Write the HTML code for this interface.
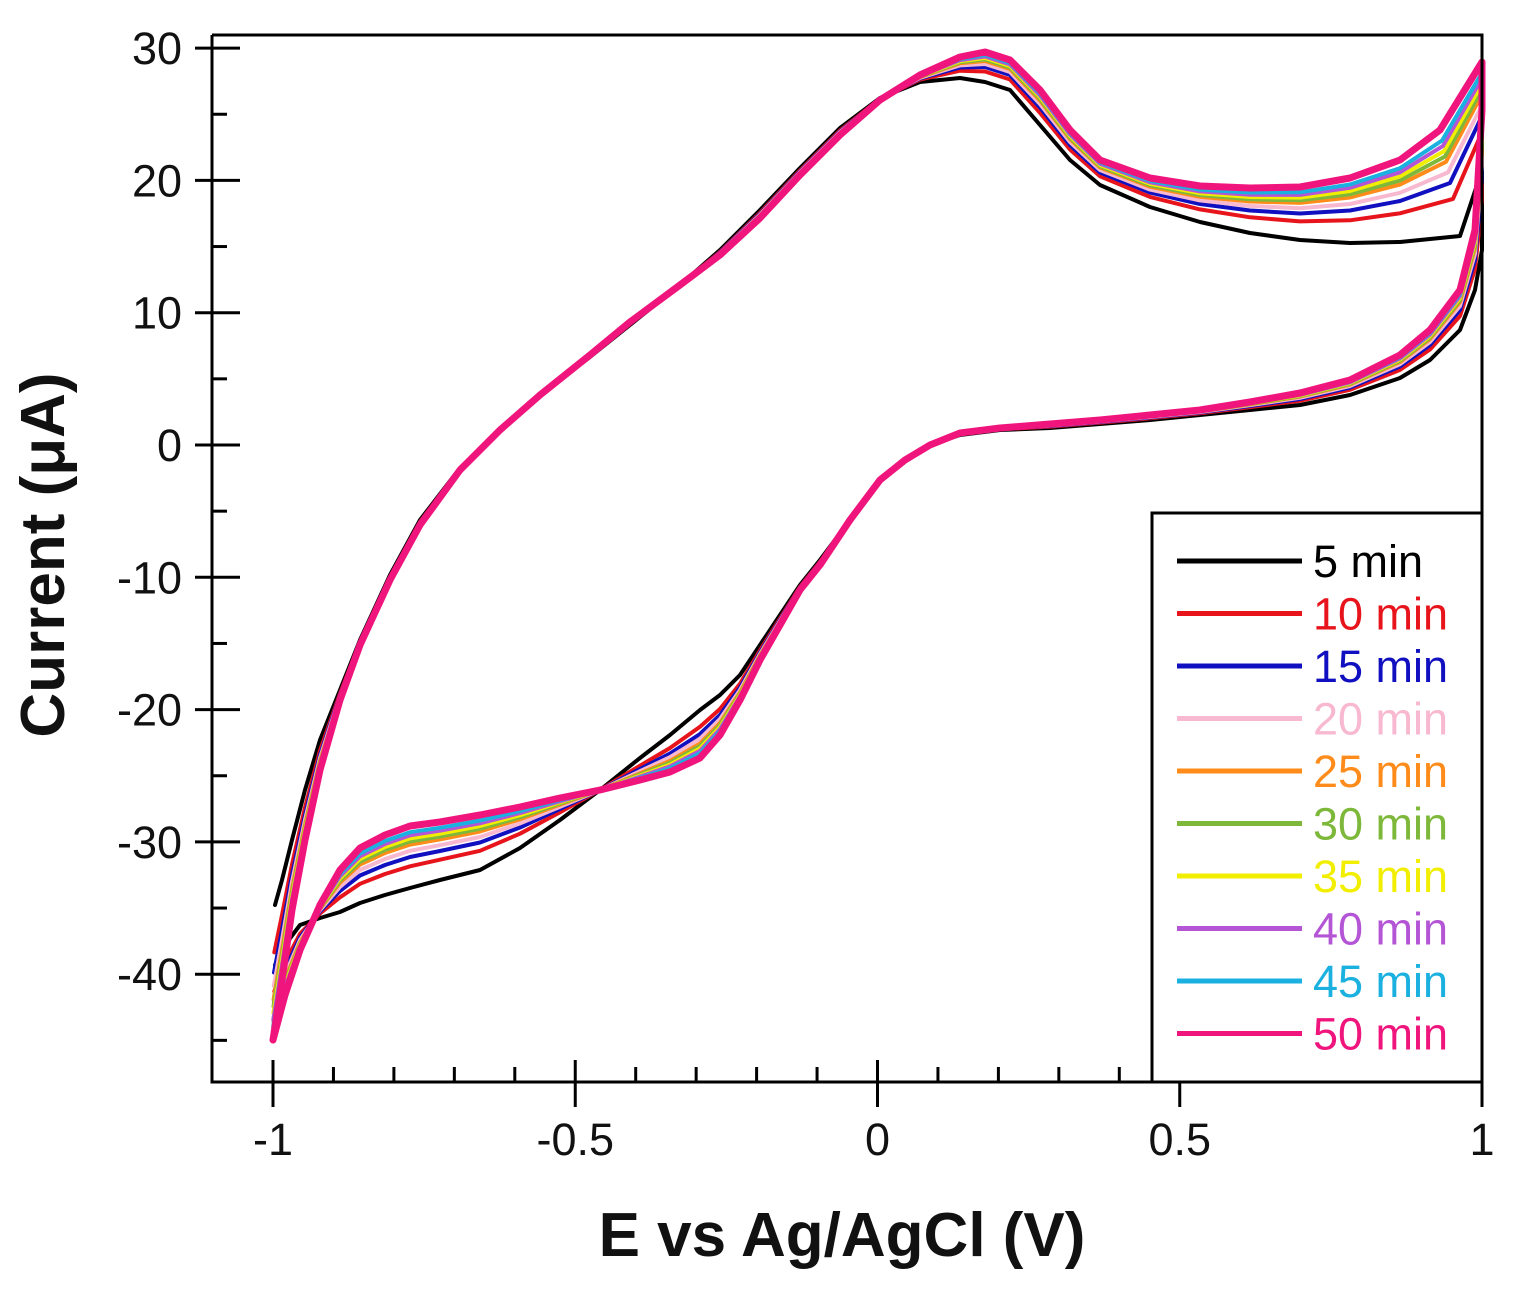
<!DOCTYPE html>
<html><head><meta charset="utf-8"><style>
html,body{margin:0;padding:0;background:#fff;}
svg text{font-family:"Liberation Sans",sans-serif;}
</style></head><body>
<svg id="s" width="1513" height="1288" viewBox="0 0 1513 1288" xmlns="http://www.w3.org/2000/svg">
<rect width="1513" height="1288" fill="#fff"/>
<g id="curves" fill="none" stroke-linejoin="round" stroke-linecap="round"></g>
<g id="axes" stroke="#000" stroke-width="3" fill="none">
<path d="M212,35 H1482 V1082 M212,35 V1082 H1482"/>
</g>
<g id="ticks" stroke="#000" stroke-width="3"></g>
<g id="labels" font-size="45" fill="#111"></g>
<text x="842" y="1256" font-size="62" font-weight="bold" text-anchor="middle" fill="#111">E vs Ag/AgCl (V)</text>
<text transform="translate(64,555) rotate(-90)" font-size="62" font-weight="bold" text-anchor="middle" fill="#111">Current (μA)</text>
<rect x="1152" y="513" width="330" height="569" fill="#fff" stroke="#000" stroke-width="3"/>
<g id="legend" font-size="45"></g>
</svg>
<script>
const NS="http://www.w3.org/2000/svg";
function el(t,a,p){const e=document.createElementNS(NS,t);for(const k in a)e.setAttribute(k,a[k]);p.appendChild(e);return e;}
const X=v=>877.5+604.5*v, Y=i=>445-13.23*i;
const tk=document.getElementById('ticks'), lb=document.getElementById('labels');
for(let i=-45;i<=30;i+=5){const y=Y(i);const maj=i%10===0;
 el('line',{x1:maj?195:212,x2:maj?240:227,y1:y,y2:y},tk);
 if(maj){const t=el('text',{x:182,y:y+16,'text-anchor':'end'},lb);t.textContent=i;}}
for(let k=-10;k<=10;k++){const v=k/10,x=X(v);const maj=k%5===0;
 el('line',{x1:x,x2:x,y1:maj?1060:1067,y2:maj?1107:1082},tk);
 if(maj){const t=el('text',{x:x,y:1155,'text-anchor':'middle'},lb);t.textContent=(v===0?'0':String(v));}}
const P=[[273,1040],[282,980],[292,910],[305,840],[320,770],[340,700],[360,645],[390,580],[420,525],[460,470],[500,430],[540,395],[590,355],[630,322],[680,285],[720,255],[760,218],[800,175],[840,135],[880,100],[920,75],[960,57],[985,52],[1010,60],[1040,90],[1070,130],[1100,160],[1150,178],[1200,186],[1250,188],[1300,187],[1350,178],[1400,160],[1440,130],[1482,62],
[1482,110],[1475,230],[1460,290],[1430,330],[1400,355],[1350,380],[1300,393],[1250,402],[1200,410],[1150,415],[1100,420],[1050,424],[1000,428],[960,433],[930,445],[905,460],[880,480],[850,520],[820,565],[800,590],[780,625],[760,660],[740,700],[720,735],[700,758],[670,772],[640,780],[600,790],[560,798],[520,807],[480,815],[440,822],[410,826],[385,835],[360,848],[340,870],[320,905],[300,950],[285,995],[273,1040]];
const B=[[275,905],[282,880],[292,840],[305,790],[320,740],[340,690],[360,640],[390,575],[420,520],[460,468],[500,430],[540,395],[590,357],[630,325],[680,285],[720,250],[760,210],[800,168],[840,128],[880,98],[920,82],[960,78],[985,82],[1010,90],[1040,125],[1070,160],[1100,185],[1150,207],[1200,222],[1250,233],[1300,240],[1350,243],[1400,242],[1460,236],[1482,170],
[1482,250],[1475,290],[1460,330],[1430,360],[1400,378],[1350,395],[1300,405],[1250,410],[1200,415],[1150,420],[1100,424],[1050,428],[1000,430],[960,435],[930,445],[905,460],[880,480],[850,520],[820,560],[800,585],[780,615],[760,645],[740,675],[720,695],[700,710],[670,735],[640,758],[600,790],[560,820],[520,848],[480,870],[440,880],[410,888],[385,895],[360,903],[340,912],[320,918],[300,925],[285,945],[275,965]];
const S=[["5 min","#000",0],["10 min","#e8141c",.35],["15 min","#1010c0",.5],["20 min","#f7b8d0",.6],["25 min","#ff8c1a",.7],["30 min","#7db83a",.75],["35 min","#f2ee00",.8],["40 min","#b455d6",.85],["45 min","#1ab0e0",.9],["50 min","#f0157d",1]];
const cg=document.getElementById('curves'), lg=document.getElementById('legend');
S.forEach((s,i)=>{const t=s[2];
 const pts=P.map((p,j)=>[(B[j][0]*(1-t)+p[0]*t).toFixed(1),(B[j][1]*(1-t)+p[1]*t).toFixed(1)].join(',')).join(' ');
 el('polyline',{points:pts,stroke:s[1],'stroke-width':i===9?7:4},cg);
 const y=561+52.5*i;
 el('line',{x1:1177,x2:1302,y1:y,y2:y,stroke:s[1],'stroke-width':5},lg);
 const tx=el('text',{x:1313,y:y+16,fill:s[1]},lg);tx.textContent=s[0];});
</script>
</body></html>
